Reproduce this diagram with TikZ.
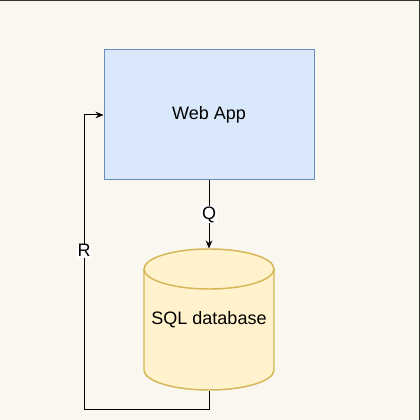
\documentclass[tikz,border=0pt]{standalone}
\usepackage{fontspec}
\setmainfont{Liberation Sans}
\usepackage{xcolor}
\usetikzlibrary{arrows.meta,positioning}
\definecolor{paper}{HTML}{F9F7EF}
\definecolor{appfill}{HTML}{DAE8FC}
\definecolor{appline}{HTML}{6C8EBF}
\definecolor{dbfill}{HTML}{FFF2CC}
\definecolor{dbline}{HTML}{D6B656}
\definecolor{frameline}{HTML}{333333}

\begin{document}
\begin{tikzpicture}[x=0.75pt, y=0.75pt, thick, font=\fontsize{13.5}{16}\selectfont]
\tikzstyle{every node} = [inner sep=0pt]
\tikzset{link/.style={line width=0.75pt, -{Stealth[length=6pt, width=5pt]}}}
\tikzset{tag/.style={fill=white, inner sep=0.6pt}}
\useasboundingbox (0,0) rectangle (420,420);
\fill[paper] (0,0) rectangle (420,420);
\draw[frameline, line width=1.5pt] (0,419.5) -- (419.5,419.5) -- (419.5,0);
% web app box
\node (app) [draw=appline, fill=appfill, line width=0.75pt, minimum width=157.5pt, minimum height=97.5pt] at (209,305) {Web App};
% database
\node (db) [minimum width=97.5pt, minimum height=105.75pt] at (209,100.5) {};
\draw[dbline, fill=dbfill, line width=1.1pt] (144,151) -- (144,50) arc (180:360:65 and 20) -- (274,151) arc (0:180:65 and 20);
\draw[dbline, line width=1.1pt] (144,151) arc (180:360:65 and 20);
\node at (db.center) {SQL database};
\coordinate (turn) at (84,10);
\draw[link] (app) -- node[tag] {Q} (db);
\draw[link] (db.south) |- (turn) |- node[tag, pos=0.27] {R} (app.west);
\end{tikzpicture}
\end{document}
